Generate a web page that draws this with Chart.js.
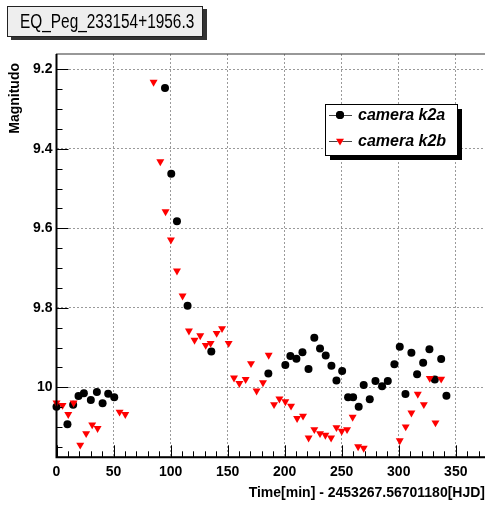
<!DOCTYPE html>
<html>
<head>
<meta charset="utf-8">
<title>EQ_Peg_233154+1956.3</title>
<script src="https://cdn.jsdelivr.net/npm/chart.js@4.4.1/dist/chart.umd.min.js"></script>
<style>
    html, body { margin: 0; padding: 0; background: #fff; overflow: hidden; }
    #wrap { position: relative; width: 485px; height: 508px; overflow: hidden; }
    #plot { position: absolute; left: 0; top: 0; }
    #title {
        position: absolute; left: 7px; top: 6px; width: 194px; height: 29px;
        background: #eeeeee; border: 1px solid #222; box-shadow: 4px 3px 0 #333;
        font-family: "Liberation Sans", Arial, sans-serif; font-size: 20px; line-height: 29px;
        white-space: nowrap; overflow: hidden;
    }
    #title span { display: inline-block; margin-left: 12px; transform: scaleX(0.77); transform-origin: 0 50%; }
</style>
</head>
<body>
<div id="wrap">
    <canvas id="plot" width="500" height="508" style="width:500px;height:508px"></canvas>
    <div id="title"><span>EQ_Peg_233154+1956.3</span></div>
</div>
<script>
//--- Data ---//
const k2aTime = [0, 9.6, 14.6, 19.3, 24, 30.1, 35.4, 40.4, 45.3, 50.6, 95.1, 100.6, 105.6, 114.9, 135.7,
    185.7, 200.6, 205, 210.3, 215.6, 220.9, 226, 231, 236, 241, 245.4, 250.4, 255.6, 260, 264.9, 269.3,
    274.6, 279.6, 285.4, 290.4, 296.2, 300.9, 305.9, 311.1, 316.1, 321.4, 326.9, 331.6, 337.2, 341.8];
const k2aMag = [10.049, 10.093, 10.044, 10.022, 10.015, 10.032, 10.012, 10.040, 10.016, 10.025, 9.247, 9.463, 9.582, 9.795, 9.910,
    9.965, 9.944, 9.921, 9.928, 9.912, 9.954, 9.875, 9.902, 9.920, 9.946, 9.983, 9.959, 10.025, 10.025, 10.049, 9.994,
    10.030, 9.984, 9.997, 9.984, 9.942, 9.898, 10.017, 9.913, 9.967, 9.938, 9.904, 9.980, 9.929, 10.021];

const k2bTime = [0, 5.3, 10.3, 15, 20.8, 26, 31.3, 36, 55.3, 60.3, 85.1, 91, 95.6, 100.3, 105.6, 110.5,
    116.1, 121, 126, 130.8, 135.1, 140.4, 145.1, 150.9, 155.6, 160.3, 165.8, 170.5, 175.4, 181, 186,
    190.7, 195.4, 200.6, 205.6, 210.9, 216.1, 221, 226, 231, 235.7, 240.7, 245.4, 250, 254.7, 259.6,
    264.4, 269.3, 300.9, 306.1, 311.1, 316.7, 322, 327.2, 332.2, 337.2];
const k2bMag = [10.039, 10.045, 10.068, 10.039, 10.145, 10.116, 10.094, 10.103, 10.062, 10.068, 9.232, 9.432, 9.558, 9.629, 9.707, 9.770,
    9.858, 9.881, 9.870, 9.894, 9.889, 9.864, 9.852, 9.889, 9.976, 9.990, 9.980, 9.940, 10.009, 9.988, 9.919,
    10.043, 10.029, 10.036, 10.047, 10.078, 10.072, 10.127, 10.106, 10.116, 10.120, 10.127, 10.101, 10.110, 10.106, 10.075,
    10.149, 10.153, 10.134, 10.099, 10.064, 10.017, 10.043, 9.977, 10.089, 9.979];

const seriesNames = ['camera k2a', 'camera k2b'];
const xTicks = [0, 50, 100, 150, 200, 250, 300, 350];
const yTicks = [9.2, 9.4, 9.6, 9.8, 10];
const xTitle = 'Time[min] - 2453267.56701180[HJD]';
const yTitle = 'Magnitudo';
//------------//

const canvas = document.getElementById('plot');
const fontFamily = '"Liberation Sans", Arial, Helvetica, sans-serif';

//--- Helpers ---//
function toPoints(times, mags) {
    return times.map((t, i) => ({ x: t, y: mags[i] }));
}
function yLabel(v) {
    return String(Math.round(v * 10) / 10);
}
//--------------//

// ROOT-like frame, inner ticks, axis titles and the legend box
const rootStyle = {
    id: 'rootStyle',
    afterDraw(chart) {
        const { ctx, chartArea: a, scales: { x, y } } = chart;
        ctx.save();

        // ticks inside the frame
        ctx.strokeStyle = '#000';
        ctx.lineWidth = 1;
        ctx.beginPath();
        for (let v = 0; v <= x.max; v += 10) {
            const px = Math.round(x.getPixelForValue(v)) + 0.5;
            const len = v % 50 === 0 ? 12 : 6;
            ctx.moveTo(px, a.bottom);
            ctx.lineTo(px, a.bottom - len);
        }
        for (let k = 180; k <= 205; k++) {
            const v = k * 0.05;
            if (v < y.min || v > y.max) continue;
            const py = Math.round(y.getPixelForValue(v)) + 0.5;
            const len = k % 4 === 0 ? 12 : 6;
            ctx.moveTo(a.left, py);
            ctx.lineTo(a.left + len, py);
        }
        ctx.stroke();

        // frame
        ctx.strokeStyle = '#333';
        ctx.lineWidth = 1;
        ctx.strokeRect(a.left, a.top, a.right - a.left, a.bottom - a.top);
        ctx.strokeStyle = '#000';
        ctx.lineWidth = 2;
        ctx.beginPath();
        ctx.moveTo(a.left, a.top);
        ctx.lineTo(a.left, a.bottom);
        ctx.lineTo(a.right, a.bottom);
        ctx.stroke();

        // axis titles
        ctx.fillStyle = '#000';
        ctx.font = 'bold 14px ' + fontFamily;
        ctx.textAlign = 'right';
        ctx.textBaseline = 'middle';
        ctx.fillText(xTitle, 485, 493);
        ctx.save();
        ctx.translate(15, 63);
        ctx.rotate(-Math.PI / 2);
        ctx.fillText(yTitle, 0, 0);
        ctx.restore();

        // legend
        const box = { left: 325, top: 104, w: 132, h: 51 };
        ctx.fillStyle = '#000';
        ctx.fillRect(box.left + 5, box.top + 5, box.w, box.h);
        ctx.fillStyle = '#fff';
        ctx.fillRect(box.left, box.top, box.w, box.h);
        ctx.strokeStyle = '#000';
        ctx.lineWidth = 1;
        ctx.strokeRect(box.left + 0.5, box.top + 0.5, box.w, box.h);

        const rows = [115, 141];
        chart.data.datasets.forEach((ds, i) => {
            const ry = rows[seriesNames.indexOf(ds.label)];
            ctx.strokeStyle = '#444';
            ctx.lineWidth = 1;
            ctx.beginPath();
            ctx.moveTo(329, ry + 0.5);
            ctx.lineTo(352, ry + 0.5);
            ctx.stroke();
            Chart.helpers.drawPoint(ctx, {
                pointStyle: ds.pointStyle,
                rotation: ds.rotation || 0,
                radius: ds.pointRadius,
                borderWidth: 0
            }, 340, ry);
            ctx.fillStyle = ds.backgroundColor;
            ctx.fill();
            ctx.fillStyle = '#000';
            ctx.font = 'italic bold 16px ' + fontFamily;
            ctx.textAlign = 'left';
            ctx.textBaseline = 'middle';
            ctx.fillText(ds.label, 358, ry + 1);
        });

        ctx.restore();
    }
};

//---   Chart   ----//
function createChart() {
    const tickFont = { family: fontFamily, size: 14, weight: 'bold' };
    new Chart(canvas, {
        type: 'scatter',
        data: {
            datasets: [{
                label: seriesNames[1],
                data: toPoints(k2bTime, k2bMag),
                pointStyle: 'triangle',
                rotation: 180,
                pointRadius: 4.6,
                backgroundColor: '#ff0000',
                borderWidth: 0,
                order: 0
            }, {
                label: seriesNames[0],
                data: toPoints(k2aTime, k2aMag),
                pointStyle: 'circle',
                pointRadius: 4,
                backgroundColor: '#000000',
                borderWidth: 0,
                order: 1
            }]
        },
        options: {
            responsive: false,
            animation: false,
            clip: false,
            layout: { padding: { top: 54, right: 10, left: 0, bottom: 0 } },
            plugins: {
                legend: { display: false },
                tooltip: { enabled: false }
            },
            scales: {
                x: {
                    type: 'linear',
                    min: 0,
                    max: 380,
                    afterBuildTicks: s => { s.ticks = xTicks.map(v => ({ value: v })); },
                    afterFit: s => { s.height = 50.7; },
                    grid: { color: '#9a9a9a', lineWidth: 1, drawTicks: false },
                    border: { display: false, dash: [2, 2] },
                    ticks: { font: tickFont, color: '#000', padding: 6, maxRotation: 0, autoSkip: false }
                },
                y: {
                    type: 'linear',
                    reverse: true,
                    min: 9.1615,
                    max: 10.176,
                    afterBuildTicks: s => { s.ticks = yTicks.map(v => ({ value: v })); },
                    afterFit: s => { s.width = 56.5; },
                    grid: { color: '#9a9a9a', lineWidth: 1, drawTicks: false },
                    border: { display: false, dash: [2, 2] },
                    ticks: { font: tickFont, color: '#000', padding: 4, autoSkip: false, callback: yLabel }
                }
            }
        },
        plugins: [rootStyle]
    });
}
//------------------//

document.addEventListener('DOMContentLoaded', () => {
    createChart();
});
</script>
</body>
</html>
